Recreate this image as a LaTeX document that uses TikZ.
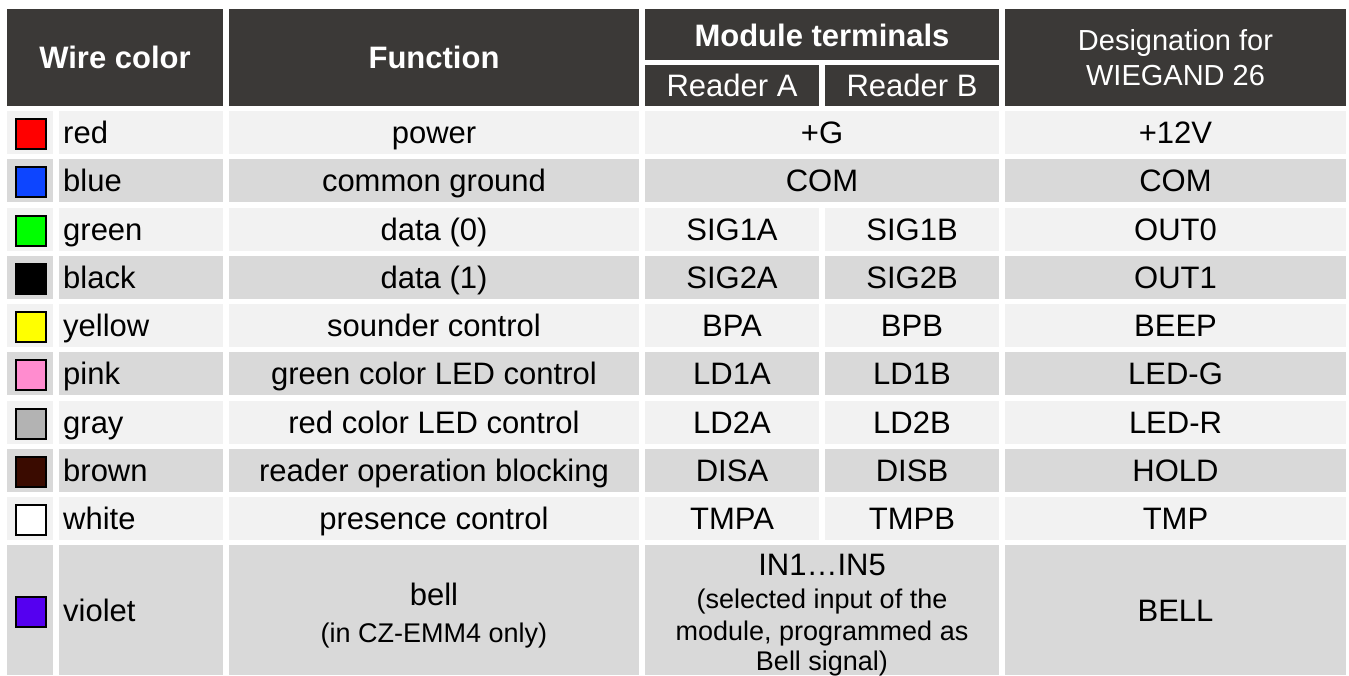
\documentclass[tikz,border=0pt]{standalone}
\usepackage{fontspec}
\setmainfont{Liberation Sans}
\definecolor{hdr}{HTML}{3B3937}
\definecolor{rowA}{HTML}{F2F2F2}
\definecolor{rowB}{HTML}{D9D9D9}
\definecolor{swred}{HTML}{FF0000}
\definecolor{swblue}{HTML}{0D45FF}
\definecolor{swgreen}{HTML}{00FF00}
\definecolor{swblack}{HTML}{000000}
\definecolor{swyellow}{HTML}{FFFF00}
\definecolor{swpink}{HTML}{FF8CCF}
\definecolor{swgray}{HTML}{B3B3B3}
\definecolor{swbrown}{HTML}{3A0B00}
\definecolor{swwhite}{HTML}{FFFFFF}
\definecolor{swviolet}{HTML}{5500F0}
\begin{document}
\begin{tikzpicture}[x=1pt,y=-1pt,
  txt/.style={font=\fontsize{31}{36}\selectfont, anchor=base, inner sep=0pt, text=black},
  small/.style={txt, font=\fontsize{27}{31}\selectfont},
  hd/.style={txt, text=white, font=\fontsize{31}{36}\selectfont\bfseries},
  hdn/.style={txt, text=white},
  hds/.style={txt, text=white, font=\fontsize{29}{34}\selectfont},
  swatch/.style={draw=black, line width=2pt, minimum size=30pt, inner sep=0pt}]
\useasboundingbox (0,0) rectangle (1349,675);
\fill[white] (0,0) rectangle (1349,675);
% header
\fill[hdr] (7,9) rectangle (223,106);
\fill[hdr] (229,9) rectangle (639,106);
\fill[hdr] (645,9) rectangle (999,60);
\fill[hdr] (645,65) rectangle (819,106);
\fill[hdr] (825,65) rectangle (999,106);
\fill[hdr] (1005,9) rectangle (1346,106);
\node[hd] (hwire) at (115,68) {Wire color};
\node[hd] (hfun) at (434,68) {Function};
\node[hd] (hmod) at (822,46) {Module terminals};
\node[hdn] (hra) at (732,96.5) {Reader A};
\node[hdn] (hrb) at (912,96.5) {Reader B};
\node[hds] (hdes1) at (1175.5,50) {Designation for};
\node[hds] (hdes2) at (1175.5,85) {WIEGAND 26};
% rows with spanning module cell
\foreach \i/\wn/\sc/\fn/\mt/\dn/\bg in {0/red/swred/power/+G/+12V/rowA, 1/blue/swblue/common ground/COM/COM/rowB}{
  \pgfmathsetmacro\t{111+48.25*\i}
  \fill[\bg] (7,\t) rectangle ++(46,43);
  \fill[\bg] (59,\t) rectangle ++(164,43);
  \fill[\bg] (229,\t) rectangle ++(410,43);
  \fill[\bg] (645,\t) rectangle ++(354,43);
  \fill[\bg] (1005,\t) rectangle ++(341,43);
  \node[swatch, fill=\sc] (s\i) at (31,{\t+23}) {};
  \node[txt, anchor=base west] (w\i) at (63,{\t+32.5}) {\wn};
  \node[txt] (f\i) at (434,{\t+32.5}) {\fn};
  \node[txt] (m\i) at (822,{\t+32.5}) {\mt};
  \node[txt] (d\i) at (1175.5,{\t+32.5}) {\dn};
}
% rows with split module cells
\foreach \i/\wn/\sc/\fn/\ta/\tb/\dn/\bg in {
  2/green/swgreen/{data (0)}/SIG1A/SIG1B/OUT0/rowA,
  3/black/swblack/{data (1)}/SIG2A/SIG2B/OUT1/rowB,
  4/yellow/swyellow/sounder control/BPA/BPB/BEEP/rowA,
  5/pink/swpink/green color LED control/LD1A/LD1B/LED-G/rowB,
  6/gray/swgray/red color LED control/LD2A/LD2B/LED-R/rowA,
  7/brown/swbrown/reader operation blocking/DISA/DISB/HOLD/rowB,
  8/white/swwhite/presence control/TMPA/TMPB/TMP/rowA}{
  \pgfmathsetmacro\t{111+48.25*\i}
  \fill[\bg] (7,\t) rectangle ++(46,43);
  \fill[\bg] (59,\t) rectangle ++(164,43);
  \fill[\bg] (229,\t) rectangle ++(410,43);
  \fill[\bg] (645,\t) rectangle ++(174,43);
  \fill[\bg] (825,\t) rectangle ++(174,43);
  \fill[\bg] (1005,\t) rectangle ++(341,43);
  \node[swatch, fill=\sc] (s\i) at (31,{\t+23}) {};
  \node[txt, anchor=base west] (w\i) at (63,{\t+32.5}) {\wn};
  \node[txt] (f\i) at (434,{\t+32.5}) {\fn};
  \node[txt] (a\i) at (732,{\t+32.5}) {\ta};
  \node[txt] (b\i) at (912,{\t+32.5}) {\tb};
  \node[txt] (d\i) at (1175.5,{\t+32.5}) {\dn};
}
% violet row
\fill[rowB] (7,545) rectangle (53,675);
\fill[rowB] (59,545) rectangle (223,675);
\fill[rowB] (229,545) rectangle (639,675);
\fill[rowB] (645,545) rectangle (999,675);
\fill[rowB] (1005,545) rectangle (1346,675);
\node[swatch, fill=swviolet] (s9) at (31,612) {};
\node[txt, anchor=base west] (w9) at (63,621) {violet};
\node[txt] (f9a) at (434,605) {bell};
\node[small] (f9b) at (434,642) {(in CZ-EMM4 only)};
\node[txt] (m9a) at (822,575) {IN1…IN5};
\node[small] (m9b) at (822,608) {(selected input of the};
\node[small] (m9c) at (822,640) {module, programmed as};
\node[small] (m9d) at (822,670) {Bell signal)};
\node[txt] (d9) at (1175.5,621) {BELL};
\end{tikzpicture}
\end{document}
